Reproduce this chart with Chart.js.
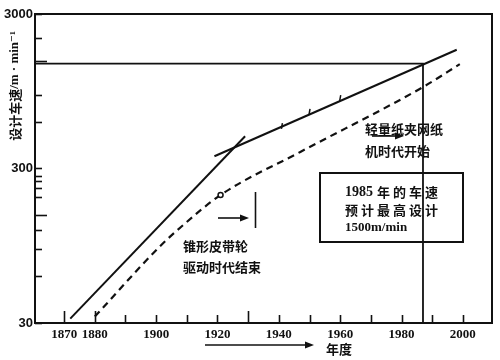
<!DOCTYPE html>
<html>
<head>
<meta charset="utf-8">
<script src="https://cdn.jsdelivr.net/npm/chart.js@4.4.1/dist/chart.umd.min.js"></script>
<style>
  html, body { margin: 0; padding: 0; background: #fff; }
</style>
</head>
<body>
<canvas id="speedChart" width="500" height="360"></canvas>
<script>
// values (year, design speed m/min)
const steepYears = [1872, 1929];
const steepSpeeds = [32, 485];
const wireYears = [1919, 1998];
const wireSpeeds = [360, 1760];
const markYears = [1941, 1950, 1960];
const markSpeeds = [565, 697, 857];
const dashYears = [1880, 1901, 1908, 1921, 1947, 1987, 1999];
const dashSpeeds = [33, 93, 125, 202, 384, 1010, 1420];
const dashMarkYear = 1921;
const targetYear = 1987;
const targetSpeed = 1430;

const xTickYears = [1870, 1880, 1890, 1900, 1910, 1920, 1930, 1940, 1950, 1960, 1970, 1980, 1990, 2000];
const xLabelYears = [1870, 1880, 1900, 1920, 1940, 1960, 1980, 2000];
const xLongTicks = [1870, 1880, 1930];
const yTickSpeeds = [30, 60, 90, 120, 150, 195, 225, 250, 270, 300, 600, 900, 1500, 2100, 3000];
const yLabelSpeeds = [30, 300, 3000];
const yLongTicks = [150, 1500];

const ink = '#111';
const cjk = '"Noto Sans CJK SC", sans-serif';
const serif = '"Liberation Serif", "DejaVu Serif", serif';

const toPoints = (xs, ys) => xs.map((x, i) => ({ x, y: ys[i] }));

function arrow(ctx, x1, y, x2) {
    ctx.beginPath();
    ctx.moveTo(x1, y);
    ctx.lineTo(x2 - 6, y);
    ctx.stroke();
    ctx.beginPath();
    ctx.moveTo(x2, y);
    ctx.lineTo(x2 - 9, y - 3.5);
    ctx.lineTo(x2 - 9, y + 3.5);
    ctx.closePath();
    ctx.fill();
}

const decor = {
    id: 'decor',
    afterDraw(chart) {
        const { ctx, chartArea: a, scales: { x, y } } = chart;
        ctx.save();
        ctx.strokeStyle = ink;
        ctx.fillStyle = ink;

        // top and right frame
        ctx.lineWidth = 2;
        ctx.beginPath();
        ctx.moveTo(a.left, a.top);
        ctx.lineTo(a.right, a.top);
        ctx.lineTo(a.right, a.bottom);
        ctx.stroke();

        // inward tick marks
        ctx.lineWidth = 1.6;
        xTickYears.forEach(v => {
            const px = Math.round(x.getPixelForValue(v)) + 0.5;
            const len = xLongTicks.includes(v) ? 12 : 8;
            ctx.beginPath();
            ctx.moveTo(px, a.bottom);
            ctx.lineTo(px, a.bottom - len);
            ctx.stroke();
        });
        yTickSpeeds.forEach(v => {
            const py = Math.round(y.getPixelForValue(v)) + 0.5;
            const len = yLongTicks.includes(v) ? 12 : 7;
            ctx.beginPath();
            ctx.moveTo(a.left, py);
            ctx.lineTo(a.left + len, py);
            ctx.stroke();
        });

        // y axis title
        ctx.save();
        ctx.translate(15, 86);
        ctx.rotate(-Math.PI / 2);
        ctx.textBaseline = 'middle';
        const t1 = '设计车速';
        ctx.font = 'bold 13px ' + cjk;
        const w1 = ctx.measureText(t1).width;
        ctx.font = 'bold 13px ' + serif;
        const t2 = '/m · min⁻¹';
        const w2 = ctx.measureText(t2).width;
        const sx = -(w1 + w2) / 2;
        ctx.font = 'bold 13px ' + cjk;
        ctx.fillText(t1, sx, 0);
        ctx.font = 'bold 13px ' + serif;
        ctx.fillText(t2, sx + w1, 0);
        ctx.restore();

        // annotations
        ctx.textBaseline = 'middle';
        ctx.textAlign = 'left';
        ctx.font = 'bold 13px ' + cjk;
        ctx.fillText('锥形皮带轮', 183, 246);
        ctx.fillText('驱动时代结束', 183, 267);
        ctx.fillText('轻量纸夹网纸', 365, 129);
        ctx.fillText('机时代开始', 365, 151);

        ctx.lineWidth = 1.6;
        arrow(ctx, 218, 218, 249);
        ctx.beginPath();
        ctx.moveTo(255.5, 192);
        ctx.lineTo(255.5, 228);
        ctx.stroke();
        arrow(ctx, 372, 136, 404);

        // forecast box
        ctx.lineWidth = 2;
        ctx.strokeRect(320, 173, 143, 69);
        ctx.font = 'bold 14px ' + serif;
        ctx.fillText('1985', 345, 192);
        ctx.letterSpacing = '3px';
        ctx.font = 'bold 13px ' + cjk;
        ctx.fillText('年的车速', 377, 192);
        ctx.fillText('预计最高设计', 345, 210);
        ctx.letterSpacing = '0px';
        ctx.font = 'bold 13px ' + serif;
        ctx.fillText('1500m/min', 345, 228);

        // x axis title
        ctx.lineWidth = 1.6;
        arrow(ctx, 205, 345, 314);
        ctx.font = 'bold 13px ' + cjk;
        ctx.fillText('年度', 326, 349);
        ctx.restore();
    }
};

const lineStyle = {
    borderColor: ink,
    borderWidth: 2,
    pointRadius: 0,
    tension: 0,
    fill: false
};

new Chart(document.getElementById('speedChart'), {
    type: 'line',
    data: {
        datasets: [
            { ...lineStyle, label: 'steep', data: toPoints(steepYears, steepSpeeds) },
            { ...lineStyle, label: 'wire', data: toPoints(wireYears, wireSpeeds) },
            {
                label: 'marks',
                data: toPoints(markYears, markSpeeds),
                showLine: false,
                pointStyle: 'line',
                rotation: 100,
                pointRadius: 3,
                borderColor: ink,
                borderWidth: 1.5
            },
            {
                ...lineStyle,
                label: 'dashed',
                data: toPoints(dashYears, dashSpeeds),
                borderDash: [7, 5],
                borderWidth: 2.2,
                cubicInterpolationMode: 'monotone',
                pointRadius: dashYears.map(v => v === dashMarkYear ? 2.5 : 0),
                pointBackgroundColor: '#fff',
                pointBorderColor: ink,
                pointBorderWidth: 1.5
            },
            {
                ...lineStyle,
                label: 'target',
                data: [
                    { x: 1860.5, y: targetSpeed },
                    { x: targetYear, y: targetSpeed },
                    { x: targetYear, y: 30 }
                ],
                borderWidth: 1.8
            }
        ]
    },
    options: {
        responsive: false,
        devicePixelRatio: 1,
        animation: false,
        layout: { padding: { top: 14, right: 8, left: 0, bottom: 0 } },
        plugins: {
            legend: { display: false },
            tooltip: { enabled: false }
        },
        scales: {
            x: {
                type: 'linear',
                min: 1860.5,
                max: 2009.5,
                grid: { display: false, drawTicks: false },
                border: { display: true, color: ink, width: 2 },
                afterBuildTicks: s => { s.ticks = xTickYears.map(v => ({ value: v })); },
                afterFit: s => { s.height = 37; },
                ticks: {
                    autoSkip: false,
                    maxRotation: 0,
                    padding: 4,
                    color: ink,
                    font: { family: serif, size: 13, weight: 'bold' },
                    callback: v => xLabelYears.includes(v) ? String(v) : ''
                }
            },
            y: {
                type: 'logarithmic',
                min: 30,
                max: 3000,
                grid: { display: false, drawTicks: false },
                border: { display: true, color: ink, width: 2 },
                afterBuildTicks: s => { s.ticks = yTickSpeeds.map(v => ({ value: v })); },
                afterFit: s => { s.width = 35; },
                ticks: {
                    autoSkip: false,
                    padding: 2,
                    color: ink,
                    font: { family: '"Liberation Sans", Arial, sans-serif', size: 13, weight: 'bold' },
                    callback: v => yLabelSpeeds.includes(v) ? String(v) : ''
                }
            }
        }
    },
    plugins: [decor]
});
</script>
</body>
</html>
